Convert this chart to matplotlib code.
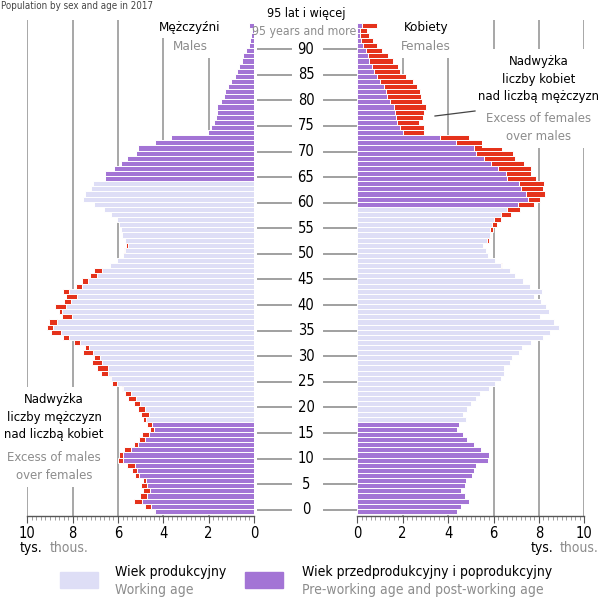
import numpy as np
import matplotlib
import matplotlib.pyplot as plt
from matplotlib.patches import Rectangle
from matplotlib.lines import Line2D
from matplotlib.transforms import blended_transform_factory

matplotlib.use('agg')

# population in thousands, ages 0..94 and 95+ (last)
ages = np.arange(96)
males = [4.42, 4.79, 5.28, 5.01, 4.91, 4.99, 4.91, 5.24, 5.38, 5.59,
         6.00, 5.97, 5.75, 5.29, 5.07, 4.94, 4.59, 4.72, 4.90, 4.99,
         5.10, 5.28, 5.56, 5.69, 5.81, 6.28, 6.37, 6.75, 6.93, 7.13,
         7.06, 7.54, 7.46, 7.96, 8.43, 8.96, 9.12, 9.06, 8.47, 8.60,
         8.78, 8.38, 8.29, 8.41, 7.87, 7.60, 7.25, 7.06, 6.33, 6.06,
         5.79, 5.72, 5.65, 5.70, 5.83, 5.86, 5.94, 6.03, 6.32, 6.61,
         7.06, 7.54, 7.45, 7.20, 7.12, 6.58, 6.57, 6.19, 5.88, 5.59,
         5.22, 5.13, 4.35, 3.66, 2.02, 1.88, 1.76, 1.69, 1.65, 1.63,
         1.44, 1.33, 1.27, 1.16, 1.02, 0.86, 0.73, 0.66, 0.53, 0.47,
         0.37, 0.24, 0.17, 0.12, 0.10, 0.20]
females = [4.38, 4.55, 4.94, 4.74, 4.58, 4.74, 4.78, 5.06, 5.15, 5.25,
           5.77, 5.78, 5.43, 5.12, 4.82, 4.65, 4.41, 4.50, 4.78, 4.65,
           4.83, 5.02, 5.21, 5.42, 5.79, 6.05, 6.31, 6.46, 6.46, 6.71,
           6.81, 7.12, 7.27, 7.66, 8.16, 8.50, 8.88, 8.67, 8.05, 8.46,
           8.31, 8.09, 7.80, 8.15, 7.60, 7.31, 6.94, 6.71, 6.37, 6.06,
           5.77, 5.67, 5.55, 5.78, 5.90, 5.99, 6.15, 6.31, 6.77, 7.18,
           7.80, 8.03, 8.27, 8.18, 8.24, 7.87, 7.67, 7.64, 7.33, 6.93,
           6.84, 6.39, 5.62, 4.92, 2.95, 2.95, 2.72, 2.88, 2.94, 3.03,
           2.83, 2.79, 2.76, 2.63, 2.47, 2.14, 1.89, 1.79, 1.56, 1.35,
           1.10, 0.88, 0.67, 0.53, 0.43, 0.85]
# working age: males 18-64, females 18-59
work_m = (18, 64)
work_f = (18, 59)
age_ticks = list(range(0, 95, 5))
x_ticks = [0, 2, 4, 6, 8, 10]

C_WORK = '#dedef6'
C_OTHER = '#a374d5'
C_EXCESS = '#e5321b'
C_GRID = '#a0a0a0'
C_GRAY = '#8c8c8c'

plt.rcParams['font.family'] = ['DejaVu Sans']
plt.rcParams['font.stretch'] = 'condensed'
W = H = 598
fig = plt.figure(figsize=(W / 100, H / 100), dpi=100)


def fx(x):
    return x / W


def fy(y):
    return 1 - y / H


males = np.array(males)
females = np.array(females)
base = np.minimum(males, females)

ax_l = fig.add_axes([fx(27.3), fy(516), fx(254 - 27.3), (516 - 20) / H])
ax_r = fig.add_axes([fx(357.3), fy(516), fx(584.3 - 357.3), (516 - 20) / H])

for ax, vals, work in ((ax_l, males, work_m), (ax_r, females, work_f)):
    cols = [C_WORK if work[0] <= a <= work[1] else C_OTHER for a in ages]
    ax.barh(ages, base, height=1.0, color=cols, edgecolor='white',
            linewidth=0.7, zorder=3)
    extra = vals - base
    ax.barh(ages, extra, left=base, height=1.0, color=C_EXCESS,
            edgecolor='white', linewidth=0.7, zorder=3)
    for g in [2, 4, 6, 8, 10]:
        ax.axvline(g, color=C_GRID, lw=1.3, zorder=1)
    ax.set_xlim(0, 10)
    ax.set_ylim(-0.91, 96.0)
    ax.set_yticks([])
    for s in ['top', 'left', 'right']:
        ax.spines[s].set_visible(False)
    ax.spines['bottom'].set_color('#555555')
    ax.spines['bottom'].set_linewidth(1.0)
    ax.spines['bottom'].set_zorder(5)
    ax.set_xticks(x_ticks)
    ax.set_xticks(np.arange(0, 10.01, 0.2), minor=True)
    ax.tick_params(axis='x', which='major', length=5, width=0.8,
                   color='#555555', labelsize=10.5, pad=2)
    ax.tick_params(axis='x', which='minor', length=3, width=0.5,
                   color='#777777')
    ax.set_facecolor('none')

ax_l.invert_xaxis()

# centre age labels with short leader lines
tr = blended_transform_factory(fig.transFigure, ax_l.transData)
for a in age_ticks:
    fig.text(fx(306), a + 0.3, str(a), transform=tr, ha='center',
             va='center', fontsize=10.5)
    fig.lines.append(Line2D([fx(258), fx(291)], [a + 0.3, a + 0.3],
                            transform=tr, color=C_GRID, lw=1.4))
    fig.lines.append(Line2D([fx(324), fx(356)], [a + 0.3, a + 0.3],
                            transform=tr, color=C_GRID, lw=1.4))

fig.text(fx(306), fy(14), '95 lat i więcej', ha='center', va='center',
         fontsize=9)
fig.text(fx(304), fy(31), '95 years and more', ha='center', va='center',
         fontsize=8.8, color=C_GRAY)


def label(x, y, s, color='black', size=9.6, pad=3.0):
    fig.text(fx(x), fy(y), s, ha='center', va='center', fontsize=size,
             color=color, linespacing=1.45, zorder=6,
             bbox=dict(facecolor='white', edgecolor='none', pad=pad))


label(190, 27, 'Mężczyźni')
label(190, 47, 'Males', C_GRAY)
label(426, 27, 'Kobiety')
label(426, 47, 'Females', C_GRAY)

label(539, 79, 'Nadwyżka\nliczby kobiet\nnad liczbą mężczyzn', size=9.4,
      pad=4.5)
label(539, 127.5, 'Excess of females\nover males', C_GRAY, size=9.4,
      pad=3.5)
fig.lines.append(Line2D([fx(435), fx(475)], [fy(116), fy(111)],
                        transform=fig.transFigure, color='#444444', lw=0.9))

label(54, 417, 'Nadwyżka\nliczby mężczyzn\nnad liczbą kobiet', size=9.4,
      pad=4.5)
label(54, 466.5, 'Excess of males\nover females', C_GRAY, size=9.4,
      pad=3.5)

# units
fig.text(fx(20), fy(548), 'tys.', ha='left', va='center', fontsize=10)
fig.text(fx(50), fy(548), 'thous.', ha='left', va='center', fontsize=10,
         color=C_GRAY)
fig.text(fx(531), fy(548), 'tys.', ha='left', va='center', fontsize=10)
fig.text(fx(560), fy(548), 'thous.', ha='left', va='center', fontsize=10,
         color=C_GRAY)

# legend
fig.patches.append(Rectangle((fx(60), fy(588)), fx(38), 16 / H,
                             transform=fig.transFigure, color=C_WORK))
fig.patches.append(Rectangle((fx(245), fy(588)), fx(38), 16 / H,
                             transform=fig.transFigure, color=C_OTHER))
fig.text(fx(115), fy(572), 'Wiek produkcyjny', ha='left', va='center',
         fontsize=10)
fig.text(fx(115), fy(590), 'Working age', ha='left', va='center',
         fontsize=10, color=C_GRAY)
fig.text(fx(302), fy(572), 'Wiek przedprodukcyjny i poprodukcyjny',
         ha='left', va='center', fontsize=10)
fig.text(fx(302), fy(590), 'Pre-working age and post-working age',
         ha='left', va='center', fontsize=10, color=C_GRAY)

# title at the top edge (cut off in the source picture)
fig.text(fx(1), fy(1), 'Population by sex and age in 2017', ha='left',
         va='top', fontsize=7, color='#444444')

fig.savefig('out.png', dpi=100)
